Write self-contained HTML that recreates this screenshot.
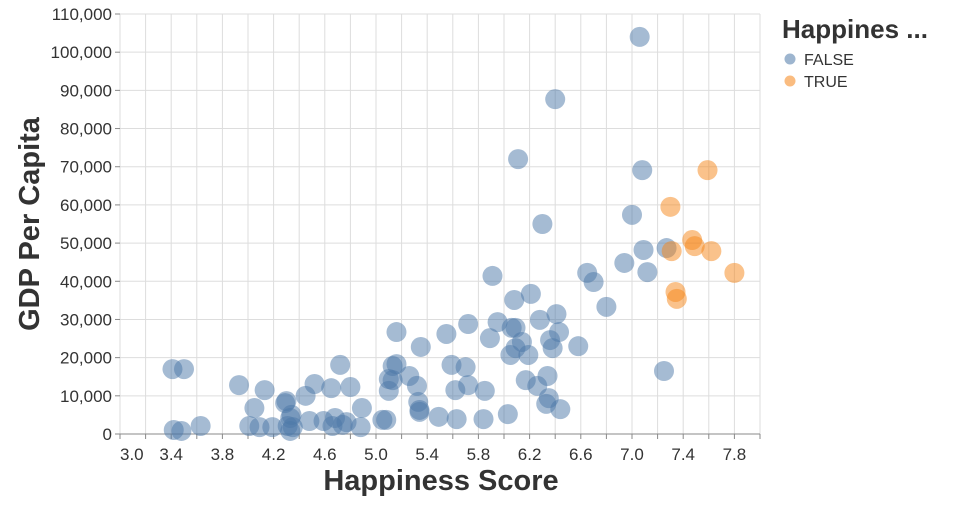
<!DOCTYPE html>
<html><head><meta charset="utf-8"><style>
body{margin:0;background:#fff;}
svg text{font-family:"Liberation Sans",sans-serif;}
</style></head><body>
<svg id="chart" width="960" height="500" xmlns="http://www.w3.org/2000/svg">
<g id="grid"></g>
<g id="axes"></g>
<g id="marks"></g>
<text x="441" y="490" text-anchor="middle" font-size="29" font-weight="bold" fill="#333">Happiness Score</text>
<text transform="translate(39,224) rotate(-90)" text-anchor="middle" font-size="29" font-weight="bold" fill="#333">GDP Per Capita</text>
<g>
<text x="782" y="38" font-size="26" font-weight="bold" fill="#333">Happines ...</text>
<g><circle cx="790" cy="59" r="5.5" fill="#4c78a8" fill-opacity="0.55"/><text x="804" y="65" font-size="16" fill="#333">FALSE</text></g>
<g><circle cx="790" cy="81" r="5.5" fill="#f58518" fill-opacity="0.55"/><text x="804" y="87" font-size="16" fill="#333">TRUE</text></g>
</g>
</svg>
<script>
const falseX=[3.41,3.50,3.42,3.48,3.63,3.93,4.05,4.01,4.13,4.09,4.19,4.30,4.29,4.33,4.33,4.31,4.35,4.34,4.45,4.48,4.52,4.59,4.65,4.66,4.68,4.72,4.74,4.80,4.77,4.88,4.89,5.05,5.08,5.10,5.10,5.13,5.16,5.13,5.16,5.26,5.33,5.32,5.34,5.34,5.35,5.49,5.55,5.59,5.62,5.63,5.70,5.72,5.72,5.84,5.85,5.89,5.91,5.95,6.03,6.06,6.05,6.08,6.09,6.09,6.11,6.14,6.17,6.19,6.21,6.26,6.28,6.30,6.33,6.34,6.35,6.36,6.38,6.40,6.41,6.43,6.44,6.58,6.65,6.70,6.80,6.94,7.00,7.06,7.08,7.09,7.12,7.25,7.27];
const falseY=[17000,17000,1050,800,2100,12800,6800,2100,11500,1800,1800,8600,8100,4200,800,2100,1800,5000,10000,3400,13100,3400,12000,2100,4200,18100,2400,12300,3100,1800,6800,3700,3700,11300,14400,17800,18300,14100,26700,15200,8400,12600,6300,5800,22800,4500,26200,18100,11500,3900,17500,28800,12800,3900,11300,25100,41400,29300,5200,27800,20700,35100,22500,27800,72000,24100,14100,20700,36700,12600,29900,55000,7900,15200,9400,24600,22500,87700,31400,26700,6500,23000,42200,39800,33300,44800,57400,104000,69100,48200,42400,16500,48700];
const trueX=[7.30,7.31,7.34,7.35,7.47,7.49,7.59,7.62,7.80];
const trueY=[59500,47900,37200,35400,50800,49200,69100,47900,42200];
const xTicks=[3.0,3.2,3.4,3.6,3.8,4.0,4.2,4.4,4.6,4.8,5.0,5.2,5.4,5.6,5.8,6.0,6.2,6.4,6.6,6.8,7.0,7.2,7.4,7.6,7.8,8.0];
const xLabels=["3.0","3.4","3.8","4.2","4.6","5.0","5.4","5.8","6.2","6.6","7.0","7.4","7.8"];
const yTicks=[0,10000,20000,30000,40000,50000,60000,70000,80000,90000,100000,110000];

const X0=120,X1=760,Y0=434,Y1=14;
const xs=v=>X0+(v-3)/(8-3)*(X1-X0);
const ys=v=>Y0-v/110000*(Y0-Y1);
const NS="http://www.w3.org/2000/svg";
function mk(tag,attrs,parent){const e=document.createElementNS(NS,tag);for(const k in attrs)e.setAttribute(k,attrs[k]);parent.appendChild(e);return e;}
const grid=document.getElementById('grid'),axes=document.getElementById('axes'),marks=document.getElementById('marks');
xTicks.forEach(t=>{const l=mk('line',{x1:xs(t),x2:xs(t),y1:Y1,y2:Y0,stroke:'#ddd'},grid);


const tk=mk('line',{x1:xs(t),x2:xs(t),y1:Y0,y2:Y0+5,stroke:'#888'},axes);

});
yTicks.forEach(t=>{const l=mk('line',{x1:X0,x2:X1,y1:ys(t),y2:ys(t),stroke:'#ddd'},grid);


const tk=mk('line',{x1:X0-5,x2:X0,y1:ys(t),y2:ys(t),stroke:'#888'},axes);


const tx=mk('text',{x:X0-8,y:ys(t)+6,'text-anchor':'end','font-size':'17',fill:'#333'},axes);
tx.textContent=t.toLocaleString('en-US');

});
xLabels.forEach((s,i)=>{const v=parseFloat(s);const tx=mk('text',{x:xs(v),y:Y0+26,'text-anchor':i===0?'start':'middle','font-size':'17',fill:'#333'},axes);
tx.textContent=s;

});
const dl=mk('line',{x1:X0,x2:X1,y1:Y0,y2:Y0,stroke:'#888'},axes);


function pts(xa,ya,col,name){xa.forEach((x,i)=>{const c=mk('circle',{cx:xs(x),cy:ys(ya[i]),r:10,fill:col,'fill-opacity':0.5},marks);

});}
pts(falseX,falseY,'#4c78a8','point-false');
pts(trueX,trueY,'#f58518','point-true');
</script>
</body></html>
